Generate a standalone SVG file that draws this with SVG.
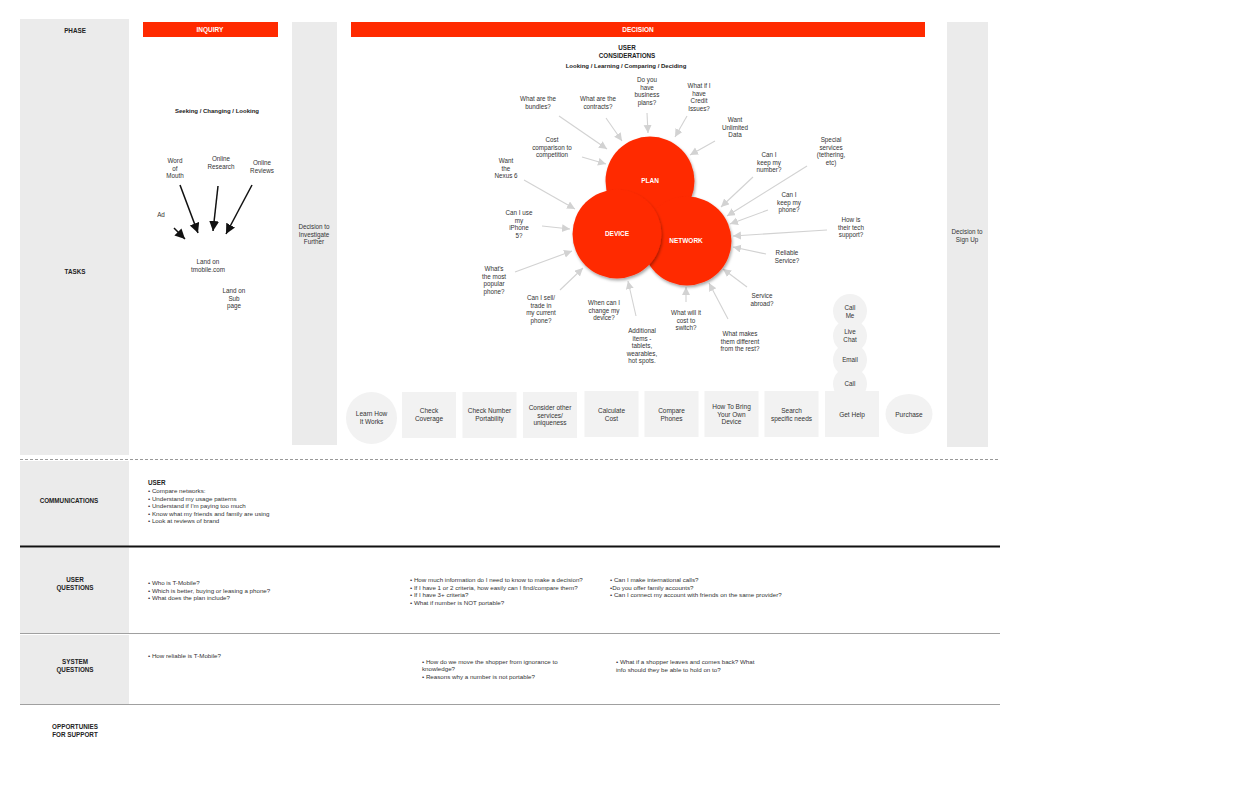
<svg xmlns="http://www.w3.org/2000/svg" width="1260" height="805" viewBox="0 0 1260 805">
<defs>
<style>
text{font-family:"Liberation Sans",Arial,sans-serif;fill:#333;font-size:6.3px;text-anchor:middle}
.b{font-weight:bold;fill:#222}
.w{fill:#fff;font-weight:bold;font-size:6.5px}
.l{text-anchor:start;font-size:6.2px}
.bx{font-size:6.5px}
.col{fill:#ebebeb}
.box{fill:#f2f2f2}
.red{fill:#ff2a00}
.ga{stroke:#d2d2d2;stroke-width:1.1;fill:none;marker-end:url(#gh)}
.ba{stroke:#111;stroke-width:1.5;fill:none;marker-end:url(#bh)}
.rule{stroke:#a0a0a0;stroke-width:1.2}
</style>
<marker id="gh" markerUnits="userSpaceOnUse" markerWidth="10" markerHeight="10" refX="8" refY="4" orient="auto"><path d="M0,0 L8,4 L0,8 z" fill="#d2d2d2"/></marker>
<marker id="bh" markerUnits="userSpaceOnUse" markerWidth="12" markerHeight="12" refX="10" refY="5" orient="auto"><path d="M0,0 L10,5 L0,10 z" fill="#111"/></marker>
<filter id="sh" x="-20%" y="-20%" width="150%" height="150%"><feDropShadow dx="1" dy="2" stdDeviation="1.5" flood-color="#000" flood-opacity="0.35"/></filter>
</defs>
<rect width="1260" height="805" fill="#fff"/>

<g id="frame">
<rect class="col" x="20" y="19" width="109" height="436"/>
<rect class="col" x="292" y="22" width="45" height="423"/>
<rect class="col" x="947" y="22" width="41" height="425"/>
<rect class="col" x="20" y="461" width="109" height="86"/>
<rect class="col" x="20" y="548" width="109" height="85"/>
<rect class="col" x="20" y="635" width="109" height="69"/>
<line x1="20" y1="459.5" x2="1000" y2="459.5" stroke="#999" stroke-width="1" stroke-dasharray="3,2"/>
<line x1="20" y1="546.5" x2="1000" y2="546.5" stroke="#111" stroke-width="2.2"/>
<line class="rule" x1="20" y1="633.5" x2="1000" y2="633.5"/>
<line class="rule" x1="20" y1="704.5" x2="1000" y2="704.5"/>
<text class="b" x="75" y="33">PHASE</text>
<text class="b" x="75" y="274">TASKS</text>
<text class="b" x="69" y="503">COMMUNICATIONS</text>
<text class="b" x="75" y="582">USER</text>
<text class="b" x="75" y="590">QUESTIONS</text>
<text class="b" x="75" y="664">SYSTEM</text>
<text class="b" x="75" y="672">QUESTIONS</text>
<text class="b" x="75" y="729">OPPORTUNIES</text>
<text class="b" x="75" y="737">FOR SUPPORT</text>
</g>

<g id="inquiry">
<rect class="red" x="143" y="22" width="135" height="15"/>
<text class="w" x="210" y="32">INQUIRY</text>
<text class="b" x="217" y="113" style="font-size:6px">Seeking / Changing / Looking</text>
</g>
<g id="word-of-mouth"><text x="175" y="163">Word<tspan x="175" dy="7.7">of</tspan><tspan x="175" dy="7.7">Mouth</tspan></text></g>
<g id="online-research"><text x="221" y="161">Online<tspan x="221" dy="7.7">Research</tspan></text></g>
<g id="online-reviews"><text x="262" y="165">Online<tspan x="262" dy="7.7">Reviews</tspan></text></g>
<g id="ad"><text x="161" y="217">Ad</text></g>
<g id="land-tmobile"><text x="208" y="264">Land on<tspan x="208" dy="7.7">tmobile.com</tspan></text></g>
<g id="land-sub"><text x="234" y="293">Land on<tspan x="234" dy="7.7">Sub</tspan><tspan x="234" dy="7.7">page</tspan></text></g>
<g id="decision-investigate"><text x="314" y="229">Decision to<tspan x="314" dy="7.7">Investigate</tspan><tspan x="314" dy="7.7">Further</tspan></text></g>

<g id="decision">
<rect class="red" x="351" y="22" width="574" height="15"/>
<text class="w" x="638" y="32">DECISION</text>
<text class="b" x="627" y="50" style="font-size:6.3px">USER</text>
<text class="b" x="627" y="57.5" style="font-size:6.3px">CONSIDERATIONS</text>
<text class="b" x="626" y="68" style="font-size:6px">Looking / Learning / Comparing / Deciding</text>
</g>
<g id="decision-signup"><text x="967" y="234">Decision to<tspan x="967" dy="7.7">Sign Up</tspan></text></g>

<g id="connectors">
<line class="ba" x1="174" y1="228" x2="185" y2="239"/>
<line class="ba" x1="180" y1="185" x2="198" y2="233"/>
<line class="ba" x1="218" y1="186" x2="213" y2="231"/>
<line class="ba" x1="252" y1="185" x2="226" y2="234"/>
<line class="ga" x1="559" y1="116" x2="607" y2="149"/>
<line class="ga" x1="606" y1="118" x2="622" y2="141"/>
<line class="ga" x1="647" y1="113" x2="648" y2="133"/>
<line class="ga" x1="687" y1="116" x2="675" y2="137"/>
<line class="ga" x1="715" y1="141" x2="690" y2="155"/>
<line class="ga" x1="753" y1="177" x2="721" y2="207"/>
<line class="ga" x1="807" y1="166" x2="727" y2="216"/>
<line class="ga" x1="768" y1="210" x2="730" y2="224"/>
<line class="ga" x1="827" y1="230" x2="733" y2="236"/>
<line class="ga" x1="766" y1="254" x2="733" y2="247"/>
<line class="ga" x1="747" y1="287" x2="723" y2="269"/>
<line class="ga" x1="728" y1="319" x2="709" y2="283"/>
<line class="ga" x1="686" y1="302" x2="686" y2="287"/>
<line class="ga" x1="636" y1="316" x2="628" y2="281"/>
<line class="ga" x1="560" y1="290" x2="583" y2="268"/>
<line class="ga" x1="515" y1="272" x2="572" y2="251"/>
<line class="ga" x1="542" y1="226" x2="570" y2="229"/>
<line class="ga" x1="524" y1="180" x2="575" y2="209"/>
<line class="ga" x1="582" y1="157" x2="606" y2="164"/>
</g>

<g id="plan"><circle class="red" cx="650" cy="181" r="44.5" filter="url(#sh)"/><text class="w" x="650" y="183">PLAN</text></g>
<g id="network"><circle class="red" cx="687" cy="241" r="44.5" filter="url(#sh)"/><text class="w" x="686" y="243">NETWORK</text></g>
<g id="device"><circle class="red" cx="617" cy="234" r="44.5" filter="url(#sh)"/><text class="w" x="617" y="236">DEVICE</text></g>

<g id="q-bundles"><text x="538" y="101">What are the<tspan x="538" dy="7.7">bundles?</tspan></text></g>
<g id="q-contracts"><text x="598" y="101">What are the<tspan x="598" dy="7.7">contracts?</tspan></text></g>
<g id="q-business"><text x="647" y="82">Do you<tspan x="647" dy="7.7">have</tspan><tspan x="647" dy="7.7">business</tspan><tspan x="647" dy="7.7">plans?</tspan></text></g>
<g id="q-credit"><text x="699" y="88">What if I<tspan x="699" dy="7.7">have</tspan><tspan x="699" dy="7.7">Credit</tspan><tspan x="699" dy="7.7">Issues?</tspan></text></g>
<g id="q-unlimited"><text x="735" y="122">Want<tspan x="735" dy="7.7">Unlimited</tspan><tspan x="735" dy="7.7">Data</tspan></text></g>
<g id="q-number"><text x="769" y="157">Can I<tspan x="769" dy="7.7">keep my</tspan><tspan x="769" dy="7.7">number?</tspan></text></g>
<g id="q-special"><text x="831" y="142">Special<tspan x="831" dy="7.7">services</tspan><tspan x="831" dy="7.7">(tethering,</tspan><tspan x="831" dy="7.7">etc)</tspan></text></g>
<g id="q-phone"><text x="789" y="197">Can I<tspan x="789" dy="7.7">keep my</tspan><tspan x="789" dy="7.7">phone?</tspan></text></g>
<g id="q-tech"><text x="851" y="222">How is<tspan x="851" dy="7.7">their tech</tspan><tspan x="851" dy="7.7">support?</tspan></text></g>
<g id="q-reliable"><text x="787" y="255">Reliable<tspan x="787" dy="7.7">Service?</tspan></text></g>
<g id="q-abroad"><text x="762" y="298">Service<tspan x="762" dy="7.7">abroad?</tspan></text></g>
<g id="q-different"><text x="740" y="336">What makes<tspan x="740" dy="7.7">them different</tspan><tspan x="740" dy="7.7">from the rest?</tspan></text></g>
<g id="q-switch"><text x="686" y="315">What will it<tspan x="686" dy="7.7">cost to</tspan><tspan x="686" dy="7.7">switch?</tspan></text></g>
<g id="q-additional"><text x="642" y="333">Additional<tspan x="642" dy="7.5">items -</tspan><tspan x="642" dy="7.5">tablets,</tspan><tspan x="642" dy="7.5">wearables,</tspan><tspan x="642" dy="7.5">hot spots.</tspan></text></g>
<g id="q-change"><text x="604" y="305">When can I<tspan x="604" dy="7.7">change my</tspan><tspan x="604" dy="7.7">device?</tspan></text></g>
<g id="q-sell"><text x="541" y="300">Can I sell/<tspan x="541" dy="7.5">trade in</tspan><tspan x="541" dy="7.5">my current</tspan><tspan x="541" dy="7.5">phone?</tspan></text></g>
<g id="q-popular"><text x="494" y="271">What's<tspan x="494" dy="7.5">the most</tspan><tspan x="494" dy="7.5">popular</tspan><tspan x="494" dy="7.5">phone?</tspan></text></g>
<g id="q-iphone"><text x="519" y="215">Can I use<tspan x="519" dy="7.5">my</tspan><tspan x="519" dy="7.5">iPhone</tspan><tspan x="519" dy="7.5">5?</tspan></text></g>
<g id="q-nexus"><text x="506" y="163">Want<tspan x="506" dy="7.7">the</tspan><tspan x="506" dy="7.7">Nexus 6</tspan></text></g>
<g id="q-cost"><text x="552" y="142">Cost<tspan x="552" dy="7.5">comparison to</tspan><tspan x="552" dy="7.5">competition</tspan></text></g>

<g id="help-callme"><circle class="box" cx="850" cy="311" r="17"/><text x="850" y="310">Call<tspan x="850" dy="7.5">Me</tspan></text></g>
<g id="help-livechat"><circle class="box" cx="850" cy="336" r="17"/><text x="850" y="334">Live<tspan x="850" dy="7.5">Chat</tspan></text></g>
<g id="help-email"><circle class="box" cx="850" cy="360" r="17"/><text x="850" y="362">Email</text></g>
<g id="help-call"><circle class="box" cx="850" cy="384" r="17"/><text x="850" y="386">Call</text></g>

<g id="t-learn"><ellipse class="box" cx="371.5" cy="418" rx="25.5" ry="26"/><text class="bx" x="371.5" y="416">Learn How<tspan x="371.5" dy="7.7">It Works</tspan></text></g>
<g id="t-coverage"><rect class="box" x="402" y="392" width="54" height="46"/><text class="bx" x="429" y="413">Check<tspan x="429" dy="7.7">Coverage</tspan></text></g>
<g id="t-portability"><rect class="box" x="462.5" y="392" width="54" height="46"/><text class="bx" x="489.5" y="413">Check Number<tspan x="489.5" dy="7.7">Portability</tspan></text></g>
<g id="t-consider"><rect class="box" x="523" y="392" width="54" height="46"/><text class="bx" x="550" y="410">Consider other<tspan x="550" dy="7.7">services/</tspan><tspan x="550" dy="7.7">uniqueness</tspan></text></g>
<g id="t-calculate"><rect class="box" x="584.5" y="391" width="54" height="46"/><text class="bx" x="611.5" y="413">Calculate<tspan x="611.5" dy="7.7">Cost</tspan></text></g>
<g id="t-compare"><rect class="box" x="644.5" y="391" width="54" height="46"/><text class="bx" x="671.5" y="413">Compare<tspan x="671.5" dy="7.7">Phones</tspan></text></g>
<g id="t-byod"><rect class="box" x="704.5" y="391" width="54" height="46"/><text class="bx" x="731.5" y="409">How To Bring<tspan x="731.5" dy="7.7">Your Own</tspan><tspan x="731.5" dy="7.7">Device</tspan></text></g>
<g id="t-search"><rect class="box" x="764.5" y="391" width="54" height="46"/><text class="bx" x="791.5" y="413">Search<tspan x="791.5" dy="7.7">specific needs</tspan></text></g>
<g id="t-gethelp"><rect class="box" x="825" y="391" width="54" height="46"/><text class="bx" x="852" y="417">Get Help</text></g>
<g id="t-purchase"><ellipse class="box" cx="909" cy="414" rx="23.5" ry="20"/><text class="bx" x="909" y="417">Purchase</text></g>

<g id="communications">
<text class="l b" x="148" y="485" style="font-size:6.3px">USER</text>
<text class="l" x="148" y="493">• Compare networks:</text>
<text class="l" x="148" y="500.5">• Understand my usage patterns</text>
<text class="l" x="148" y="508">• Understand if I’m paying too much</text>
<text class="l" x="148" y="515.5">• Know what my friends and family are using</text>
<text class="l" x="148" y="523">• Look at reviews of brand</text>
</g>

<g id="user-questions">
<text class="l" x="148" y="585">• Who is T-Mobile?</text>
<text class="l" x="148" y="593">• Which is better, buying or leasing a phone?</text>
<text class="l" x="148" y="600">• What does the plan include?</text>
<text class="l" x="410" y="582">• How much information do I need to know to make a decision?</text>
<text class="l" x="410" y="590">• If I have 1 or 2 criteria, how easily can I find/compare them?</text>
<text class="l" x="410" y="597">• If I have 3+ criteria?</text>
<text class="l" x="410" y="605">• What if number is NOT portable?</text>
<text class="l" x="610" y="582">• Can I make international calls?</text>
<text class="l" x="610" y="590">•Do you offer family accounts?</text>
<text class="l" x="610" y="597">• Can I connect my account with friends on the same provider?</text>
</g>

<g id="system-questions">
<text class="l" x="148" y="658">• How reliable is T-Mobile?</text>
<text class="l" x="422" y="664">• How do we move the shopper from ignorance to</text>
<text class="l" x="422" y="671">knowledge?</text>
<text class="l" x="422" y="679">• Reasons why a number is not portable?</text>
<text class="l" x="616" y="664">• What if a shopper leaves and comes back? What</text>
<text class="l" x="616" y="672">info should they be able to hold on to?</text>
</g>
</svg>
